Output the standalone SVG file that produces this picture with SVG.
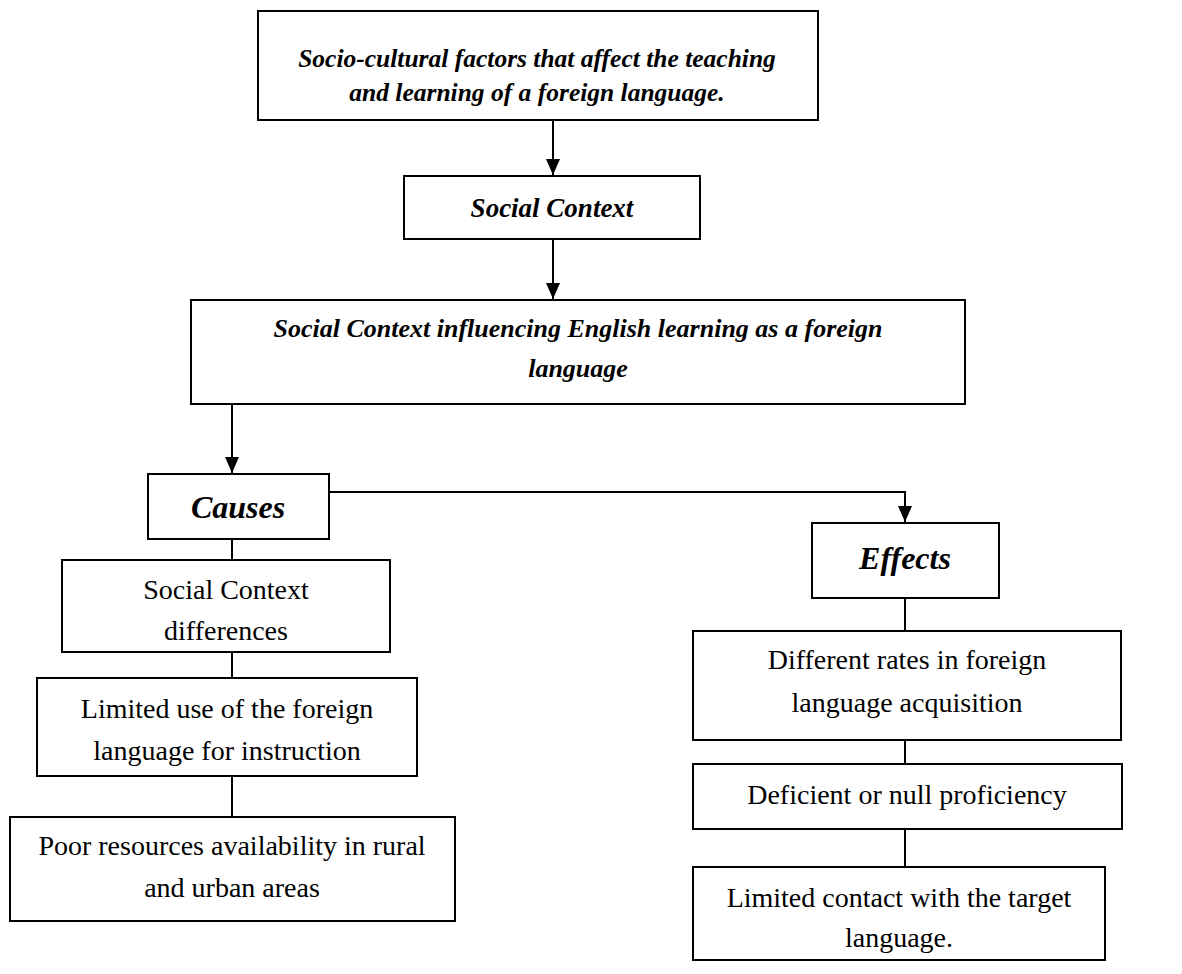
<svg xmlns="http://www.w3.org/2000/svg" width="1182" height="974" viewBox="0 0 1182 974">
<style>
.box{fill:#fff;stroke:#000;stroke-width:2}
.bi{font-family:"Liberation Serif","Times New Roman",serif;font-weight:bold;font-style:italic;fill:#000;text-anchor:middle}
.rg{font-family:"Liberation Serif","Times New Roman",serif;font-size:28px;fill:#000;text-anchor:middle}
.ln{stroke:#000;stroke-width:2;fill:none}
</style>
<defs>
<marker id="ah" viewBox="0 0 16 14" refX="16" refY="7" markerWidth="16" markerHeight="14" markerUnits="userSpaceOnUse" orient="auto">
<path d="M0,0 L16,7 L0,14 Z" fill="#000"/>
</marker>
</defs>
<rect width="1182" height="974" fill="#fff"/>
<g id="connectors">
<line class="ln" x1="553" y1="120" x2="553" y2="175" marker-end="url(#ah)"/>
<line class="ln" x1="553" y1="239" x2="553" y2="299" marker-end="url(#ah)"/>
<line class="ln" x1="232" y1="404" x2="232" y2="473" marker-end="url(#ah)"/>
<polyline class="ln" points="329,492 905,492 905,522" marker-end="url(#ah)"/>
<line class="ln" x1="232" y1="539" x2="232" y2="560"/>
<line class="ln" x1="232" y1="652" x2="232" y2="678"/>
<line class="ln" x1="232" y1="776" x2="232" y2="817"/>
<line class="ln" x1="905" y1="598" x2="905" y2="631"/>
<line class="ln" x1="905" y1="740" x2="905" y2="764"/>
<line class="ln" x1="905" y1="829" x2="905" y2="867"/>
</g>
<g id="n-top">
<rect class="box" x="258" y="11" width="560" height="109"/>
<text class="bi" font-size="25.5" x="537" y="67">Socio-cultural factors that affect the teaching</text>
<text class="bi" font-size="25.5" x="537" y="101">and learning of a foreign language.</text>
</g>
<g id="n-social">
<rect class="box" x="404" y="176" width="296" height="63"/>
<text class="bi" font-size="27" x="552" y="217">Social Context</text>
</g>
<g id="n-influence">
<rect class="box" x="191" y="300" width="774" height="104"/>
<text class="bi" font-size="26" x="578" y="337">Social Context influencing English learning as a foreign</text>
<text class="bi" font-size="26" x="578" y="377">language</text>
</g>
<g id="n-causes">
<rect class="box" x="148" y="474" width="181" height="65"/>
<text class="bi" font-size="32" x="238" y="518">Causes</text>
</g>
<g id="n-effects">
<rect class="box" x="812" y="523" width="187" height="75"/>
<text class="bi" font-size="32" x="905" y="569">Effects</text>
</g>
<g id="n-scd">
<rect class="box" x="62" y="560" width="328" height="92"/>
<text class="rg" x="226" y="599">Social Context</text>
<text class="rg" x="226" y="640">differences</text>
</g>
<g id="n-limited-use">
<rect class="box" x="37" y="678" width="380" height="98"/>
<text class="rg" x="227" y="718">Limited use of the foreign</text>
<text class="rg" x="227" y="760">language for instruction</text>
</g>
<g id="n-poor">
<rect class="box" x="10" y="817" width="445" height="104"/>
<text class="rg" x="232" y="855">Poor resources availability in rural</text>
<text class="rg" x="232" y="897">and urban areas</text>
</g>
<g id="n-rates">
<rect class="box" x="693" y="631" width="428" height="109"/>
<text class="rg" x="907" y="669">Different rates in foreign</text>
<text class="rg" x="907" y="712">language acquisition</text>
</g>
<g id="n-deficient">
<rect class="box" x="693" y="764" width="429" height="65"/>
<text class="rg" x="907" y="804">Deficient or null proficiency</text>
</g>
<g id="n-contact">
<rect class="box" x="693" y="867" width="412" height="93"/>
<text class="rg" x="899" y="907">Limited contact with the target</text>
<text class="rg" x="899" y="947">language.</text>
</g>
</svg>
